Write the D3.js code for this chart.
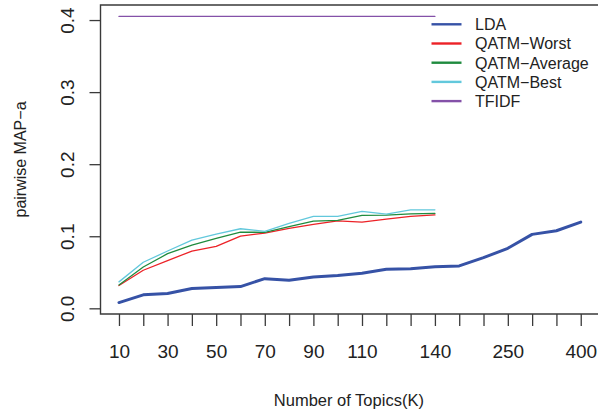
<!DOCTYPE html>
<html>
<head>
<meta charset="utf-8">
<script src="https://cdn.jsdelivr.net/npm/d3@7"></script>
<style>
  html, body { margin: 0; padding: 0; background: #fff; }
  svg { display: block; font-family: "Liberation Sans", Arial, Helvetica, sans-serif; }
</style>
</head>
<body>
<svg id="chart" width="598" height="414"></svg>
<script>
// Number of topics K evaluated
const topics = [10, 20, 30, 40, 50, 60, 70, 80, 90, 100, 110, 120, 130, 140, 150, 200, 250, 300, 350, 400];
// Tick labels printed under the axis (others are left blank to avoid overlap)
const xLabels = ["10", "30", "50", "70", "90", "110", "140", "250", "400"];
const yTicks = [0.0, 0.1, 0.2, 0.3, 0.4];

// pairwise MAP-a per method
const lda = [0.008, 0.0187, 0.0205, 0.0274, 0.0288, 0.0302, 0.0412, 0.039, 0.0436, 0.0454,
             0.0487, 0.0542, 0.055, 0.0578, 0.0588, 0.0703, 0.0833, 0.1026, 0.1076, 0.1196];
const qatmWorst = [0.0316, 0.0528, 0.0661, 0.0795, 0.086, 0.1003, 0.1044, 0.1109, 0.1164, 0.1214,
                   0.1196, 0.1238, 0.1275, 0.1297];
const qatmAverage = [0.0325, 0.0574, 0.0758, 0.0878, 0.0971, 0.1058, 0.1054, 0.1132, 0.121, 0.122,
                     0.1289, 0.1293, 0.1311, 0.1317];
const qatmBest = [0.0367, 0.0639, 0.0795, 0.0947, 0.103, 0.1104, 0.1068, 0.1178, 0.1275, 0.1275,
                  0.1344, 0.1307, 0.1367, 0.1367];
const tfidf = [0.405, 0.405, 0.405, 0.405, 0.405, 0.405, 0.405, 0.405, 0.405, 0.405,
               0.405, 0.405, 0.405, 0.405];

const seriesNames = ["LDA", "QATM\u2212Worst", "QATM\u2212Average", "QATM\u2212Best", "TFIDF"];
const seriesValues = [lda, qatmWorst, qatmAverage, qatmBest, tfidf];
const seriesColors = ["#3652a6", "#ec2227", "#1f8b3e", "#62c8dc", "#8451a8"];
const seriesWidths = [3, 1.3, 1.3, 1.3, 1.3];

const svg = d3.select("#chart");
const plot = { left: 100.5, right: 599.2, top: 5, bottom: 314 };

// 4% padding on both axes, like base R graphics
const n = topics.length;
const xPad = 0.04 * (n - 1);
const x = d3.scaleLinear().domain([-xPad, n - 1 + xPad]).range([plot.left, plot.right]);

const allVals = seriesValues.flat();
const yMin = d3.min(allVals), yMax = d3.max(allVals);
const yPad = 0.04 * (yMax - yMin);
const y = d3.scaleLinear().domain([yMin - yPad, yMax + yPad]).range([plot.bottom, plot.top]);

const ink = "#222";
const axisInk = "#3a3a3a";

// series lines
const line = d3.line().x((d, i) => x(i)).y(d => y(d));
seriesValues.forEach((vals, k) => {
  svg.append("path")
    .datum(vals)
    .attr("d", line)
    .attr("fill", "none")
    .attr("stroke", seriesColors[k])
    .attr("stroke-width", seriesWidths[k])
    .attr("stroke-linejoin", "round")
    .attr("stroke-linecap", "round");
});

// plot frame (left, top, bottom)
svg.append("path")
  .attr("d", `M${plot.right},${plot.top}H${plot.left}V${plot.bottom}H${plot.right}`)
  .attr("fill", "none")
  .attr("stroke", axisInk)
  .attr("stroke-width", 1.4);

// x axis: a tick for every K, labels only for a subset
const xAxis = d3.axisBottom(x)
  .tickValues(d3.range(n))
  .tickSize(12)
  .tickPadding(4)
  .tickFormat(i => xLabels.includes(String(topics[i])) ? String(topics[i]) : "");
const gx = svg.append("g").attr("transform", `translate(0,${plot.bottom})`).call(xAxis);
gx.select(".domain").remove();
gx.selectAll(".tick line").attr("stroke", axisInk).attr("stroke-width", 1.3);
gx.selectAll(".tick text")
  .attr("fill", ink)
  .attr("font-size", 19)
  .attr("dy", null)
  .attr("y", 43.5)
  .attr("dominant-baseline", "auto");

// y axis with labels rotated along the axis
const yAxis = d3.axisLeft(y)
  .tickValues(yTicks)
  .tickSize(11)
  .tickFormat(d3.format(".1f"));
const gy = svg.append("g").attr("transform", `translate(${plot.left},0)`).call(yAxis);
gy.select(".domain").remove();
gy.selectAll(".tick line").attr("stroke", axisInk).attr("stroke-width", 1.3);
gy.selectAll(".tick text")
  .attr("fill", ink)
  .attr("font-size", 19)
  .attr("x", null)
  .attr("dy", null)
  .attr("text-anchor", "middle")
  .attr("transform", "translate(-26.5,0) rotate(-90)");

// axis titles
svg.append("text")
  .attr("x", (plot.left + plot.right) / 2 - 1)
  .attr("y", 406)
  .attr("text-anchor", "middle")
  .attr("font-size", 16.5)
  .attr("fill", ink)
  .text("Number of Topics(K)");

svg.append("text")
  .attr("transform", `translate(26,${(plot.top + plot.bottom) / 2}) rotate(-90)`)
  .attr("text-anchor", "middle")
  .attr("font-size", 16)
  .attr("fill", ink)
  .text("pairwise MAP\u2212a");

// legend
const legend = svg.append("g").attr("transform", "translate(431.5,24.3)");
seriesNames.forEach((name, k) => {
  const row = legend.append("g").attr("transform", `translate(0,${k * 19.2})`);
  row.append("line")
    .attr("x1", 0).attr("x2", 30)
    .attr("y1", 0).attr("y2", 0)
    .attr("stroke", seriesColors[k])
    .attr("stroke-width", 2.4);
  row.append("text")
    .attr("x", 43.5)
    .attr("y", 5.8)
    .attr("font-size", 16)
    .attr("fill", ink)
    .text(name);
});
</script>
</body>
</html>
